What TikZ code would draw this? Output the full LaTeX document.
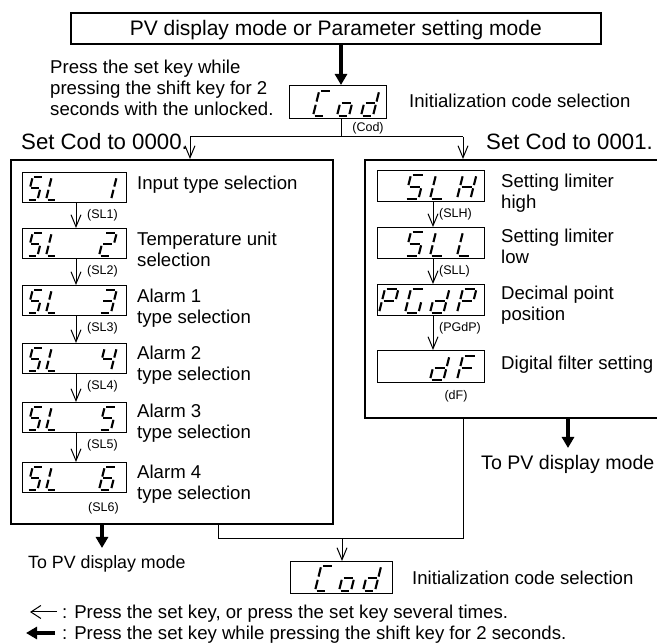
\documentclass[tikz,border=0pt]{standalone}
\usepackage{fontspec}
\setmainfont{Liberation Sans}
\usetikzlibrary{arrows.meta}
\newcommand\fdesc{\fontsize{18.6}{21}\selectfont}
\newcommand\ftitle{\fontsize{21}{25}\selectfont}
\newcommand\fset{\fontsize{22.2}{25}\selectfont}
\newcommand\ftopvl{\fontsize{17.8}{21}\selectfont}
\newcommand\ftopvr{\fontsize{19.6}{23}\selectfont}
\newcommand\flab{\fontsize{12.5}{14}\selectfont}
% seven-segment digit: {node}{x offset}{width}{height}{segments}
\newcommand{\sevseg}[5]{%
  \begin{scope}[shift={(#1.south west)},shift={(#2,-3.5)},xslant=0.25]
    \foreach \s in {#5}{%
      \if a\s \draw[segline] (1.6,-#4) -- (#3-1.6,-#4);\fi
      \if b\s \draw[segline] (#3,-#4+1.6) -- (#3,-#4/2-1.6);\fi
      \if c\s \draw[segline] (#3,-#4/2+1.6) -- (#3,-1.6);\fi
      \if d\s \draw[segline] (1.6,0) -- (#3-1.6,0);\fi
      \if e\s \draw[segline] (0,-#4/2+1.6) -- (0,-1.6);\fi
      \if f\s \draw[segline] (0,-#4+1.6) -- (0,-#4/2-1.6);\fi
      \if g\s \draw[segline] (1.6,-#4/2) -- (#3-1.6,-#4/2);\fi
    }
  \end{scope}}
% "SL" prefix of the left-column displays
\newcommand{\slpre}[1]{%
  \sevseg{#1}{5}{10.5}{23}{a,f,g,c,d}%
  \sevseg{#1}{24}{10.5}{23}{f,e,d}}
\begin{document}
\begin{tikzpicture}[x=1pt,y=-1pt,
  bigbox/.style={draw,line width=1.6pt,inner sep=0pt,anchor=north west},
  dispbox/.style={draw,line width=1.2pt,inner sep=0pt,anchor=north west},
  segline/.style={line width=2.1pt,line cap=butt},
  conn/.style={line width=1pt},
  thinarrow/.style={line width=1pt,-{Straight Barb[length=12pt,width=10pt]}},
  legthin/.style={line width=1pt,-{Straight Barb[length=10pt,width=13pt]}},
  thickarrow/.style={line width=3.5pt,-{Triangle[length=11pt,width=12pt]}},
  desc/.style={font=\fdesc,align=left,anchor=north west,inner sep=0pt},
  lab/.style={font=\flab,inner sep=0pt,text height=9pt,text depth=0pt},
]
\useasboundingbox (0,0) rectangle (657,644);

% ---- frames
\node[bigbox,minimum width=530pt,minimum height=31pt,font=\ftitle,text height=15pt,text depth=0pt] (title) at (70,12) {PV display mode or Parameter setting mode};
\node[bigbox,minimum width=322pt,minimum height=364pt] (lbox) at (10,159) {};
\node[bigbox,minimum width=300pt,minimum height=258pt] (rbox) at (364,159) {};

% ---- top code selection
\node[dispbox,minimum width=97pt,minimum height=33pt] (cod1) at (289,85) {};
\sevseg{cod1}{24}{12}{25}{a,f,e,d}
\sevseg{cod1}{48}{12}{25}{g,c,d,e}
\sevseg{cod1}{72}{12}{25}{b,c,d,e,g}
\node[lab,anchor=north] (codlab1) at (368,122) {(Cod)};
\node[desc] (codtxt1) at (409,93.5) {Initialization code selection};
\node[desc] (presstxt) at (50,59.5) {Press the set key while\\pressing the shift key for 2\\seconds with the unlocked.};

\coordinate (ca) at (341,0);
\draw[thickarrow] (title.south -| ca) -- (cod1.north -| ca);
\coordinate (split) at (341,137);
\coordinate (sl) at (190,137);
\coordinate (sr) at (463,137);
\draw[conn] (cod1.south -| split) -- (split);
\draw[conn] (sl) -- (sr);
\draw[thinarrow] (sl) -- (sl |- lbox.north);
\draw[thinarrow] (sr) -- (sr |- rbox.north);
\node[font=\fset,anchor=north west,inner sep=0pt] (set0) at (21,133) {Set Cod to 0000.};
\node[font=\fset,anchor=north west,inner sep=0pt] (set1) at (486,133) {Set Cod to 0001.};

% ---- left column
\node[dispbox,minimum width=104pt,minimum height=30pt] (sl1) at (22,172) {};
\node[dispbox,minimum width=104pt,minimum height=30pt] (sl2) at (22,228) {};
\node[dispbox,minimum width=104pt,minimum height=30pt] (sl3) at (22,285) {};
\node[dispbox,minimum width=104pt,minimum height=30pt] (sl4) at (22,343) {};
\node[dispbox,minimum width=104pt,minimum height=30pt] (sl5) at (22,402) {};
\node[dispbox,minimum width=104pt,minimum height=30pt] (sl6) at (22,462) {};
\slpre{sl1} \sevseg{sl1}{77}{12}{23}{b,c}
\slpre{sl2} \sevseg{sl2}{77}{12}{23}{a,b,g,e,d}
\slpre{sl3} \sevseg{sl3}{77}{12}{23}{a,b,g,c,d}
\slpre{sl4} \sevseg{sl4}{77}{12}{23}{f,g,b,c}
\slpre{sl5} \sevseg{sl5}{77}{12}{23}{a,f,g,c,d}
\slpre{sl6} \sevseg{sl6}{77}{12}{23}{a,f,g,e,c,d}
\coordinate (lx) at (76,0);
\draw[thinarrow] (sl1.south -| lx) -- (sl2.north -| lx);
\draw[thinarrow] (sl2.south -| lx) -- (sl3.north -| lx);
\draw[thinarrow] (sl3.south -| lx) -- (sl4.north -| lx);
\draw[thinarrow] (sl4.south -| lx) -- (sl5.north -| lx);
\draw[thinarrow] (sl5.south -| lx) -- (sl6.north -| lx);
\node[lab,anchor=west] (lsl1) at (87,214) {(SL1)};
\node[lab,anchor=west] (lsl2) at (87,270) {(SL2)};
\node[lab,anchor=west] (lsl3) at (87,327) {(SL3)};
\node[lab,anchor=west] (lsl4) at (87,385) {(SL4)};
\node[lab,anchor=west] (lsl5) at (87,444) {(SL5)};
\node[lab,anchor=west] (lsl6) at (88,507) {(SL6)};
\node[desc] (tsl1) at (137,176) {Input type selection};
\node[desc] (tsl2) at (137,232) {Temperature unit\\selection};
\node[desc] (tsl3) at (137,289) {Alarm 1\\type selection};
\node[desc] (tsl4) at (137,346) {Alarm 2\\type selection};
\node[desc] (tsl5) at (137,404) {Alarm 3\\type selection};
\node[desc] (tsl6) at (137,465) {Alarm 4\\type selection};

% ---- right column
\node[dispbox,minimum width=107pt,minimum height=31pt] (slh) at (377,170) {};
\node[dispbox,minimum width=107pt,minimum height=31pt] (sll) at (377,227) {};
\node[dispbox,minimum width=107pt,minimum height=31pt] (pgdp) at (377,284) {};
\node[dispbox,minimum width=107pt,minimum height=32pt] (df) at (377,350) {};
\sevseg{slh}{28}{13.5}{24}{a,f,g,c,d}
\sevseg{slh}{53}{13.5}{24}{f,e,d}
\sevseg{slh}{80}{13.5}{24}{b,c,e,f,g}
\sevseg{sll}{28}{13.5}{24}{a,f,g,c,d}
\sevseg{sll}{53}{13.5}{24}{f,e,d}
\sevseg{sll}{80}{13.5}{24}{f,e,d}
\sevseg{pgdp}{2}{13.5}{24}{a,b,f,g,e}
\sevseg{pgdp}{28}{13.5}{24}{a,f,e,d,c}
\sevseg{pgdp}{53}{13.5}{24}{b,c,d,e,g}
\sevseg{pgdp}{80}{13.5}{24}{a,b,f,g,e}
\sevseg{df}{53}{13.5}{24}{b,c,d,e,g}
\sevseg{df}{80}{13.5}{24}{a,f,g,e}
\coordinate (rx) at (433,0);
\draw[thinarrow] (slh.south -| rx) -- (sll.north -| rx);
\draw[thinarrow] (sll.south -| rx) -- (pgdp.north -| rx);
\draw[thinarrow] (pgdp.south -| rx) -- (df.north -| rx);
\node[lab,anchor=west] (lslh) at (439,213) {(SLH)};
\node[lab,anchor=west] (lsll) at (439,270) {(SLL)};
\node[lab,anchor=west] (lpgdp) at (439,327) {(PGdP)};
\node[lab] (ldf) at (456,395) {(dF)};
\node[desc] (tslh) at (501,173.5) {Setting limiter\\high};
\node[desc] (tsll) at (501,228.5) {Setting limiter\\low};
\node[desc] (tpgdp) at (501,285.5) {Decimal point\\position};
\node[desc] (tdf) at (501,355.5) {Digital filter setting};

% ---- exits
\coordinate (lt) at (102,548);
\draw[thickarrow] (lbox.south -| lt) -- (lt);
\node[font=\ftopvl,anchor=north west,inner sep=0pt] (topvl) at (28,555) {To PV display mode};
\coordinate (rt) at (568,448);
\draw[thickarrow] (rbox.south -| rt) -- (rt);
\node[font=\ftopvr,anchor=north west,inner sep=0pt] (topvr) at (481,455) {To PV display mode};

% ---- merge to bottom code selection
\node[dispbox,minimum width=102pt,minimum height=32pt] (cod2) at (290,561) {};
\sevseg{cod2}{25}{12}{25}{a,f,e,d}
\sevseg{cod2}{49}{12}{25}{g,c,d,e}
\sevseg{cod2}{73}{12}{25}{b,c,d,e,g}
\node[desc] (codtxt2) at (412,570.5) {Initialization code selection};
\coordinate (ml) at (218,539);
\coordinate (mr) at (463,539);
\coordinate (mm) at (342,539);
\draw[conn] (lbox.south -| ml) -- (ml) -- (mr) -- (rbox.south -| mr);
\draw[thinarrow] (mm) -- (cod2.north -| mm);

% ---- legend
\coordinate (g1s) at (57,612);
\coordinate (g1e) at (30,612);
\draw[legthin] (g1s) -- (g1e);
\node[desc] (leg1) at (62,605) {: Press the set key, or press the set key several times.};
\coordinate (g2s) at (55,633);
\coordinate (g2e) at (26,633);
\draw[line width=4pt,-{Triangle[length=11pt,width=12pt]}] (g2s) -- (g2e);
\node[desc] (leg2) at (62,626) {: Press the set key while pressing the shift key for 2 seconds.};
\end{tikzpicture}
\end{document}
